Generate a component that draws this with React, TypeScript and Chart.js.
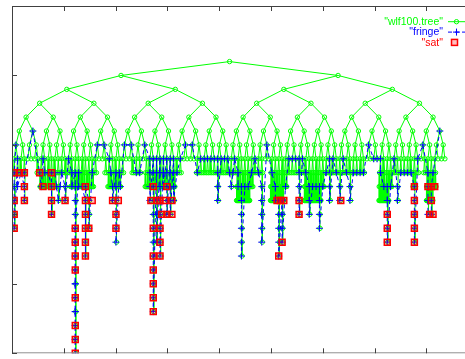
import React, { useEffect, useRef } from 'react';
import { Chart, registerables } from 'chart.js';

Chart.register(...registerables);

// ---------------- data ----------------
const seriesNames = ['"wlf100.tree"', '"fringe"', '"sat"'];
const xTicks = [0, 10, 20, 30, 40, 50, 60, 70, 80, 90, 100];
const yTicks = [-4, 1, 6, 11, 16, 21];

// depth to which each depth-7 subtree of the tree is fully expanded (128 subtrees, left to right)
const fullDepth = [
  8, 8, 8, 8, 7, 7, 7, 8, 9, 9, 9, 9, 9, 8, 8, 8,
  8, 9, 9, 9, 9, 9, 9, 9, 8, 7, 7, 8, 9, 9, 9, 9,
  8, 7, 7, 8, 8, 8, 7, 9, 9, 9, 9, 9, 9, 9, 9, 9,
  8, 8, 7, 7, 7, 7, 8, 8, 8, 8, 8, 8, 8, 8, 8, 8,
  8, 8, 10, 10, 10, 10, 9, 8, 8, 8, 7, 7, 10, 10, 10, 10,
  9, 8, 8, 8, 8, 8, 10, 10, 10, 10, 10, 9, 8, 8, 8, 8,
  8, 8, 8, 8, 8, 8, 8, 8, 7, 7, 7, 7, 10, 10, 10, 9,
  8, 8, 8, 8, 8, 8, 9, 8, 7, 8, 10, 10, 9, 7, 7, 7,
];

// single deep branches: [subtree, deepest depth]
const chainEnds = [
  [0, 12], [3, 10], [11, 11], [13, 10], [15, 10], [18, 21], [21, 14], [22, 12],
  [29, 10], [30, 13], [40, 10], [41, 18], [42, 13], [43, 14], [45, 11], [46, 11],
  [47, 10], [60, 10], [64, 9], [67, 14], [73, 13], [78, 14], [79, 13], [84, 11],
  [87, 11], [90, 12], [93, 10], [96, 10], [99, 10], [110, 13], [113, 10], [118, 13],
  [122, 11], [123, 11],
];

// fringe nodes in order: [position in subtree units, depth]
const fringe = [
  [0.5, 6], [0, 8], [0, 9], [0, 10], [0, 11], [0, 12], [1, 7], [1, 8], [1, 9], [2, 8], [3, 9], [3, 10], [3, 8],
  [5.5, 5],
  [7.5, 8], [8, 9], [8.5, 7], [9, 8], [10, 8], [11, 9], [11, 10], [11, 11], [11, 8], [12, 8], [12.5, 9], [13, 10], [13.5, 9],
  [14, 8], [15, 9], [15, 10], [16, 7], [17, 8], [17, 9], [18, 8], [18, 9], [18, 10], [18, 11], [18, 12], [18, 13], [18, 14],
  [18, 15], [18, 16], [18, 17], [18, 18], [18, 19], [18, 20], [18, 21], [18, 20], [18, 19], [18, 18], [18, 17], [18, 16],
  [18, 15], [18, 14], [18, 13], [18, 12],
  [19, 8], [19, 9], [20, 9], [21, 10], [21, 11], [21, 12], [21, 13], [21, 14], [21, 9], [22, 10], [22, 11], [22, 12], [23, 8],
  [24.5, 6], [26.5, 6],
  [28, 7], [28.5, 8], [29, 9], [29, 10], [30, 8], [30, 9], [30, 10], [30, 11], [30, 12], [30, 13], [31, 8], [31.3, 9],
  [32.5, 6], [34.5, 6], [36, 8], [37, 8], [38.5, 6],
  [40, 7], [40, 8], [40, 9], [40, 10], [41, 7], [41, 8], [41, 9], [41, 10], [41, 11], [41, 12], [41, 13], [41, 14],
  [41, 15], [41, 16], [41, 17], [41, 18], [42, 7], [42, 8], [42, 9], [42, 10], [42, 11], [42, 12], [42, 13],
  [43, 7], [43, 8], [43, 9], [43, 10], [43, 11], [43, 12], [43, 13], [43, 14], [44, 7], [44, 8], [44, 9],
  [45, 7], [45, 8], [45, 9], [45, 10], [45, 11], [46, 7], [46, 8], [46, 9], [46, 10], [46, 11],
  [47, 7], [47, 8], [47, 9], [47, 10], [48, 8], [49, 7],
  [50.5, 6], [52.5, 6],
  [54, 8], [55, 7], [56, 7], [57, 7], [58, 7], [59, 7], [60, 7], [60, 8], [60, 9], [60, 10], [61, 7], [62, 7], [63, 7],
  [63.5, 8], [64, 9], [64.5, 8], [65, 7],
  [66, 8], [66, 9], [67, 9], [67, 10], [67, 11], [67, 12], [67, 13], [67, 14], [68, 9], [69, 9], [70, 8], [71, 7],
  [72, 8], [73, 9], [73, 10], [73, 11], [73, 12], [73, 13], [74.5, 6],
  [76, 8], [77, 9], [77, 10], [78, 10], [78, 11], [78, 12], [78, 13], [78, 14], [79, 10], [79, 11], [79, 12], [79, 13], [80, 9],
  [81, 7], [82, 7], [83, 7], [84, 7], [84, 8], [84, 9], [84, 10], [84, 11], [85, 7],
  [86, 8], [87, 9], [87, 10], [87, 11], [88, 9], [89, 9], [90, 9], [90, 10], [90, 11], [90, 12], [91, 9], [92, 8],
  [93, 7], [93, 9], [93, 10], [94, 7], [95, 8], [96, 9], [96, 10], [97, 7], [98, 8], [99, 9], [99, 10],
  [100, 8], [101, 8], [102, 8], [103, 8],
  [104.5, 6], [106, 7], [107, 7], [108, 7], [108, 8], [109, 9], [110, 9], [110, 10], [110, 11], [110, 12], [110, 13], [111, 9],
  [112, 7], [113, 9], [113, 10], [114, 8], [115, 8], [116, 8], [117, 8], [118, 9], [118, 10], [118, 11], [118, 12], [118, 13],
  [119, 7], [120.5, 6],
  [122, 8], [122, 9], [122, 10], [122, 11], [123, 11], [123, 10], [123, 9], [123.5, 8], [125.5, 5],
];

// saturated nodes: [position in subtree units, depth]
const sat = [
  [0, 8], [1.5, 8], [3, 8], [3, 9], [0, 10], [3, 10], [0, 11], [0, 12],
  [7.5, 8], [8.5, 9], [11, 8], [11, 9], [11, 10], [11, 11],
  [15, 10],
  [21, 9], [21, 10], [23, 10], [21, 11], [21, 12], [22, 12], [21, 13], [21, 14],
  [18, 12], [18, 13], [18, 14], [18, 15], [18, 17], [18, 19], [18, 20], [18, 21],
  [29, 10], [30.7, 10], [30, 11], [30, 12],
  [41, 9], [40.3, 10], [42.2, 10], [41, 12], [41, 14], [41, 15], [41, 16], [41, 17], [41, 18],
  [43, 12], [43, 13], [43, 14],
  [45, 9], [43, 10], [44.5, 10], [46.5, 10], [43.5, 11], [45, 11], [46.5, 11],
  [77.5, 10], [78.5, 10], [79.5, 10], [79, 13], [78, 14],
  [84, 10], [84, 11],
  [96.3, 10],
  [110, 11], [110, 12], [110, 13],
  [118, 9], [118, 10], [118, 11], [118, 12], [118, 13],
  [122, 9], [123, 9], [124, 9], [123, 10], [122.5, 11], [123.5, 11],
];

// ---------------- layout of the tree in axis units ----------------
const CANOPY = 7;
const SUBTREES = 128;
const TREE_LEFT = 0.1;
const TREE_SPAN = 83.8;

const nodeX = (d: number, i: number) => TREE_LEFT + ((i + 0.5) * TREE_SPAN) / Math.pow(2, d);
const slotX = (s: number) => TREE_LEFT + ((s + 0.5) * TREE_SPAN) / SUBTREES;

function buildTree() {
  const seen = new Set<string>();
  const nodes: { x: number; y: number }[] = [];
  const edges: { x: number; y: number | null }[] = [];
  const add = (d: number, i: number) => {
    const k = d + ':' + i;
    if (seen.has(k)) return;
    seen.add(k);
    nodes.push({ x: nodeX(d, i), y: d });
    if (d > 0) {
      edges.push({ x: nodeX(d - 1, Math.floor(i / 2)), y: d - 1 });
      edges.push({ x: nodeX(d, i), y: d });
      edges.push({ x: nodeX(d, i), y: null });
    }
  };
  for (let d = 0; d <= CANOPY; d++) {
    for (let i = 0; i < Math.pow(2, d); i++) add(d, i);
  }
  fullDepth.forEach((fd, s) => {
    for (let d = CANOPY + 1; d <= fd; d++) {
      const w = Math.pow(2, d - CANOPY);
      for (let i = s * w; i < (s + 1) * w; i++) add(d, i);
    }
  });
  chainEnds.forEach(([s, D]) => {
    let i = s;
    for (let d = CANOPY + 1; d <= D; d++) {
      i = i * 2 + ((d - CANOPY) % 2 === 1 ? 1 : 0);
      add(d, i);
    }
  });
  return { nodes, edges };
}

const GREEN = '#00ff00';
const BLUE = '#0000ff';
const RED = '#ff0000';
const FRAME = '#404040';

const framePlugin = {
  id: 'gnuFrame',
  afterDraw(chart: any) {
    const { ctx, chartArea: a, scales } = chart;
    const xs = scales.x;
    const ys = scales.y;
    ctx.save();
    ctx.lineWidth = 1;
    ctx.setLineDash([]);
    // border
    ctx.strokeStyle = FRAME;
    ctx.beginPath();
    ctx.moveTo(a.left + 0.5, a.bottom);
    ctx.lineTo(a.left + 0.5, a.top + 0.5);
    ctx.lineTo(a.right - 0.5, a.top + 0.5);
    ctx.lineTo(a.right - 0.5, a.bottom);
    ctx.stroke();
    ctx.strokeStyle = '#909090';
    ctx.beginPath();
    ctx.moveTo(a.left, a.bottom - 0.5);
    ctx.lineTo(a.right, a.bottom - 0.5);
    ctx.stroke();
    // ticks (inward, mirrored)
    ctx.strokeStyle = FRAME;
    ctx.beginPath();
    xTicks.forEach((v) => {
      const px = Math.round(xs.getPixelForValue(v)) + 0.5;
      ctx.moveTo(px, a.top);
      ctx.lineTo(px, a.top + 5);
      ctx.moveTo(px, a.bottom);
      ctx.lineTo(px, a.bottom - 5);
    });
    yTicks.forEach((v) => {
      const py = Math.round(ys.getPixelForValue(v)) + 0.5;
      ctx.moveTo(a.left, py);
      ctx.lineTo(a.left + 5, py);
      ctx.moveTo(a.right, py);
      ctx.lineTo(a.right - 5, py);
    });
    ctx.stroke();

    // key
    ctx.font = '10.5px "Liberation Sans", Arial, sans-serif';
    ctx.textAlign = 'right';
    ctx.textBaseline = 'alphabetic';
    const tx = 443;
    const rows = [25, 35.4, 45.7];
    const colors = [GREEN, BLUE, RED];
    seriesNames.forEach((name, k) => {
      ctx.fillStyle = colors[k];
      ctx.fillText(name, tx, rows[k]);
    });
    const sx0 = 448;
    const sx1 = 482;
    const mx = 456.5;
    // tree sample
    let cy = rows[0] - 3.3;
    ctx.strokeStyle = GREEN;
    ctx.beginPath();
    ctx.moveTo(sx0, cy);
    ctx.lineTo(sx1, cy);
    ctx.stroke();
    ctx.beginPath();
    ctx.arc(mx, cy, 2.2, 0, Math.PI * 2);
    ctx.stroke();
    // fringe sample
    cy = rows[1] - 3.3;
    ctx.strokeStyle = BLUE;
    ctx.setLineDash([4, 3]);
    ctx.beginPath();
    ctx.moveTo(sx0, cy);
    ctx.lineTo(sx1, cy);
    ctx.stroke();
    ctx.setLineDash([]);
    ctx.beginPath();
    ctx.moveTo(mx - 3.5, cy);
    ctx.lineTo(mx + 3.5, cy);
    ctx.moveTo(mx, cy - 3.5);
    ctx.lineTo(mx, cy + 3.5);
    ctx.stroke();
    // sat sample
    cy = rows[2] - 3.3;
    ctx.strokeStyle = RED;
    ctx.fillStyle = 'rgba(255,0,0,0.25)';
    ctx.lineWidth = 1.5;
    ctx.fillRect(mx - 5, cy - 3, 6, 6);
    ctx.strokeRect(mx - 5, cy - 3, 6, 6);
    ctx.restore();
  },
};

export default function App() {
  const ref = useRef<HTMLCanvasElement>(null);
  useEffect(() => {
    const { nodes, edges } = buildTree();
    const fringePts = fringe.map(([s, d]) => ({ x: slotX(s), y: d }));
    const satPts = sat.map(([s, d]) => ({ x: slotX(s), y: d }));
    const chart = new Chart(ref.current as HTMLCanvasElement, {
      type: 'line',
      data: {
        datasets: [
          {
            label: 'tree-edges',
            data: edges as any,
            borderColor: GREEN,
            borderWidth: 1,
            pointRadius: 0,
            showLine: true,
            spanGaps: false,
            order: 4,
          },
          {
            label: seriesNames[0],
            data: nodes as any,
            showLine: false,
            pointStyle: 'circle',
            pointRadius: 2.2,
            pointBorderColor: GREEN,
            pointBackgroundColor: 'rgba(0,0,0,0)',
            pointBorderWidth: 1,
            order: 3,
          },
          {
            label: seriesNames[1],
            data: fringePts as any,
            showLine: true,
            borderColor: BLUE,
            borderWidth: 1,
            borderDash: [4, 3],
            pointStyle: 'cross',
            pointRadius: 3.5,
            pointBorderColor: BLUE,
            pointBorderWidth: 1,
            order: 2,
          },
          {
            label: seriesNames[2],
            data: satPts as any,
            showLine: false,
            pointStyle: 'rect',
            pointRadius: 4.2,
            pointBorderColor: RED,
            pointBackgroundColor: 'rgba(255,0,0,0.25)',
            pointBorderWidth: 1.5,
            order: 1,
          },
        ],
      },
      options: {
        animation: false,
        responsive: false,
        devicePixelRatio: 1,
        events: [],
        layout: { padding: { left: 12, top: 6, right: 10, bottom: 0 } },
        elements: { line: { tension: 0 } },
        scales: {
          x: { type: 'linear', min: xTicks[0], max: xTicks[xTicks.length - 1], display: false },
          y: { type: 'linear', min: yTicks[0], max: yTicks[yTicks.length - 1], reverse: true, display: false },
        },
        plugins: { legend: { display: false }, tooltip: { enabled: false } },
      },
      plugins: [framePlugin],
    });
    return () => chart.destroy();
  }, []);
  return (
    <div
      style={{
        position: 'fixed',
        left: 0,
        top: 0,
        width: 465,
        height: 359,
        overflow: 'hidden',
        background: '#ffffff',
      }}
    >
      <canvas ref={ref} width={540} height={359} style={{ display: 'block', width: 540, height: 359 }} />
    </div>
  );
}
